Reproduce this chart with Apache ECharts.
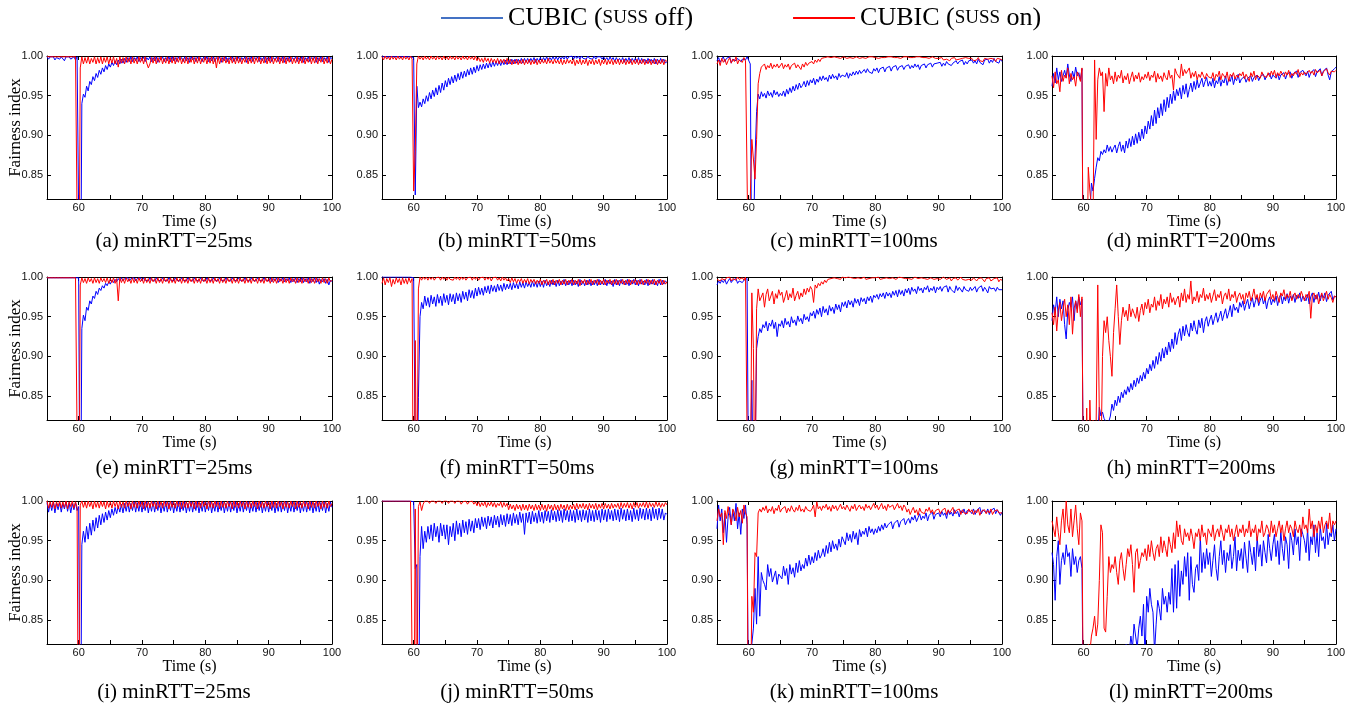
<!DOCTYPE html>
<html><head><meta charset="utf-8">
<script src="https://cdn.jsdelivr.net/npm/echarts@6/dist/echarts.min.js"></script>
<style>html,body{margin:0;padding:0;background:#fff}#c{width:1354px;height:707px}</style>
</head><body><div id="c"></div>
<script>
// Fairness index values in thousandths, sampled every 0.25 s from 55 s to 100 s (181 samples)
const a_off=[999,996,999,997,999,995,998,999,996,999,998,994,999,997,999,996,998,999,995,999,
998,600,940,952,948,962,956,968,964,974,969,978,973,982,977,985,980,988,983,990,
986,992,988,994,989,995,990,996,991,997,992,998,993,999,993,998,994,999,993,998,
994,999,993,998,995,999,993,998,994,999,992,998,995,999,993,998,994,999,993,999,
994,998,993,999,995,998,993,999,994,998,992,999,995,998,993,999,994,998,993,999,
995,999,993,998,994,999,993,998,995,999,992,998,994,999,993,998,995,999,993,998,
994,999,993,998,995,999,992,998,994,999,993,998,995,999,993,998,994,999,992,998,
994,999,993,998,995,999,993,998,994,999,992,998,994,999,993,998,995,999,993,998,
994,999,992,998,994,999,993,998,995,999,992,998,994,999,993,998,994,999,992,998,
997];
const a_on=[999,997,999,998,999,997,999,998,999,997,999,998,999,997,999,998,999,997,999,998,
600,985,999,990,998,991,999,990,997,992,999,990,998,991,999,990,998,992,999,990,
998,991,999,990,997,986,999,991,998,990,999,992,998,990,999,991,997,990,999,992,
998,990,999,991,985,990,998,991,999,990,998,992,999,990,997,991,999,990,998,991,
999,990,998,992,999,990,997,991,999,990,998,992,999,990,998,991,999,990,997,992,
999,990,998,991,999,990,998,985,999,990,998,992,999,991,997,990,999,991,998,990,
999,991,998,990,997,992,999,990,998,991,999,990,998,992,999,990,997,991,999,990,
998,991,999,990,997,992,999,990,998,991,999,990,998,992,999,990,997,991,999,990,
998,991,999,990,997,992,999,990,998,991,999,990,998,992,999,990,997,991,999,990,
996];
const b_off=[999,998,999,997,999,998,999,997,999,998,999,997,999,998,999,997,999,998,999,997,
998,825,962,935,942,936,946,940,950,943,954,946,957,949,960,951,963,954,966,957,
969,961,972,964,974,966,976,968,978,970,980,972,981,974,983,976,985,977,986,979,
988,981,989,983,990,984,991,985,992,986,993,987,993,988,994,988,994,989,995,989,
995,990,996,990,996,991,996,991,997,991,997,992,997,992,997,993,998,992,997,993,
998,993,998,994,999,994,998,995,999,995,999,995,999,996,999,996,1000,996,999,997,
1000,996,1000,997,1000,996,1000,997,999,996,1000,997,999,996,1000,996,999,997,999,996,
999,995,998,994,999,995,998,993,998,994,997,993,998,992,997,993,998,992,997,993,
997,992,998,991,997,992,996,991,997,992,996,991,997,990,996,991,997,992,996,991,
993];
const b_on=[999,995,1000,996,999,995,1000,996,999,995,1000,996,999,995,1000,996,999,995,1000,996,
830,880,990,1000,996,999,995,1000,996,999,995,1000,996,999,995,1000,996,999,995,1000,
996,999,995,1000,996,999,995,1000,996,999,995,1000,996,999,995,1000,996,999,995,1000,
994,998,993,997,992,998,993,997,991,997,992,996,991,997,990,996,991,996,990,997,
990,996,989,995,990,996,989,995,990,996,989,995,990,996,989,995,990,996,989,995,
990,996,991,995,990,997,991,995,990,996,991,995,990,996,989,995,990,996,991,995,
990,996,988,995,990,996,989,995,990,996,988,995,990,996,989,995,990,996,988,995,
990,996,989,995,990,996,989,995,990,996,989,995,990,996,989,995,990,996,989,995,
990,996,989,995,990,996,989,995,990,996,989,995,990,996,989,995,990,996,989,995,
993];
const c_off=[994,998,992,996,999,993,997,995,999,991,996,998,994,997,999,993,996,998,995,999,
997,990,700,760,870,930,952,946,955,949,953,947,956,950,954,948,957,951,955,949,
953,950,956,949,958,952,960,954,962,956,964,958,966,960,963,968,961,969,963,970,
966,972,964,971,967,974,969,975,970,973,968,976,971,977,972,975,970,978,973,976,
977,974,979,972,978,975,980,976,981,977,982,978,980,983,979,984,980,982,978,984,
981,985,979,984,982,986,980,985,983,987,981,986,984,988,982,986,985,988,983,987,
986,989,984,988,985,990,986,989,983,988,987,990,985,989,987,991,986,990,988,991,
989,992,987,991,988,993,990,992,988,991,989,994,990,993,991,995,989,993,990,994,
992,995,991,994,990,996,992,994,989,995,993,996,991,995,992,997,993,995,991,996,
993];
const c_on=[990,995,988,997,992,996,989,994,998,991,996,993,999,990,995,997,992,998,994,996,
700,820,895,896,845,895,965,978,986,984,990,983,988,985,991,984,989,986,990,985,
987,991,984,989,986,990,983,988,986,991,985,989,987,983,990,986,992,988,991,989,
993,990,995,992,996,993,997,995,998,996,999,997,998,996,999,997,998,999,997,998,
999,998,997,999,998,999,997,998,999,998,997,999,998,999,997,998,999,998,999,997,
998,999,997,999,998,999,998,997,999,998,999,997,998,999,998,999,997,998,999,998,
999,997,998,999,998,997,999,998,999,997,998,999,998,999,997,998,999,998,997,999,
997,996,998,995,997,996,998,994,997,996,998,995,997,996,994,997,995,998,996,997,
995,997,994,996,995,998,994,996,993,997,995,996,994,997,995,996,993,997,995,996,
995];
const d_off=[962,978,966,985,970,980,968,975,982,973,990,976,968,981,972,986,975,979,970,984,
600,560,640,780,800,840,830,846,860,872,868,880,876,882,878,888,880,886,879,884,
888,878,886,892,880,888,878,893,884,896,886,899,888,902,890,904,893,908,896,912,
902,918,908,925,912,932,915,935,922,940,925,945,930,948,935,952,940,956,944,958,
950,960,946,963,952,965,948,958,966,955,968,958,970,960,966,972,961,968,973,962,
968,962,972,960,969,965,974,962,970,966,975,963,971,968,976,964,972,969,977,966,
971,969,974,967,972,970,975,968,973,971,976,969,974,972,977,970,975,973,978,971,
976,974,972,978,970,976,974,979,971,977,975,980,972,978,976,981,973,979,977,982,
978,975,981,973,979,977,983,974,980,978,984,975,981,979,985,976,970,980,978,984,
986];
const d_on=[975,960,980,965,970,955,982,968,976,972,985,965,978,970,974,962,980,975,968,985,
600,650,700,860,830,810,790,995,895,970,985,975,980,930,978,962,985,970,975,965,
980,968,976,972,982,966,975,970,978,965,973,980,968,976,971,979,967,974,970,977,
972,980,969,976,973,981,967,978,971,975,968,979,973,970,982,972,976,957,984,978,
980,972,990,975,983,978,976,985,972,979,974,981,970,977,973,980,975,971,978,974,
976,972,979,969,977,974,981,970,978,975,972,980,968,977,974,979,971,976,973,978,
975,980,971,977,973,968,979,974,981,970,976,978,972,980,975,977,973,979,974,981,
976,982,973,979,975,981,977,974,980,976,982,973,978,975,980,977,983,974,979,976,
980,977,975,982,978,981,976,983,979,977,982,975,980,978,984,979,976,981,983,980,
982];
const e_off=[999,997,999,998,999,997,999,998,999,997,999,998,999,997,999,998,999,997,999,998,
999,600,935,952,945,962,958,970,966,976,973,982,978,986,983,989,986,992,989,994,
991,996,993,997,994,998,995,999,995,998,996,999,995,998,996,999,995,998,996,999,
995,999,996,998,995,999,996,998,995,999,996,998,995,999,996,998,995,999,996,998,
995,999,996,998,995,999,996,998,995,999,996,998,995,999,996,998,995,999,996,998,
995,999,996,998,995,999,996,998,995,999,996,998,995,999,996,998,995,999,996,998,
995,999,996,998,995,999,996,998,995,999,996,998,995,999,996,998,995,999,996,998,
995,999,994,998,995,999,993,998,995,999,994,998,995,999,993,998,994,999,993,998,
994,999,993,998,994,999,992,998,994,999,993,998,991,997,994,998,992,997,990,996,
994];
const e_on=[999,997,999,998,999,997,999,998,999,997,999,998,999,997,999,998,999,997,999,998,
600,990,999,993,998,992,999,994,998,992,999,993,998,992,999,994,998,993,999,992,
998,993,999,992,998,970,999,993,998,992,999,994,998,992,999,993,998,992,999,994,
998,992,999,993,998,992,999,994,998,992,999,993,998,992,999,994,998,992,999,993,
998,992,999,994,998,992,999,993,998,992,999,994,998,992,999,993,998,992,999,994,
998,992,999,993,998,992,999,994,998,992,999,993,998,992,999,994,998,992,999,993,
998,992,999,994,998,992,999,993,998,992,999,994,998,992,999,993,998,992,999,994,
998,992,999,993,998,992,999,994,998,992,999,993,998,992,999,994,998,992,999,993,
998,992,999,994,998,992,999,993,998,992,999,994,998,992,999,993,998,992,999,994,
996];
const f_off=[1000,998,1000,999,1000,998,1000,999,1000,998,1000,999,1000,998,1000,999,1000,998,1000,999,
999,780,700,848,950,968,960,976,964,974,962,977,966,975,963,978,967,976,964,979,
968,977,965,979,969,978,966,980,970,979,968,982,972,981,970,984,974,983,973,986,
976,987,978,986,977,988,980,989,979,990,982,989,981,991,983,990,982,992,984,991,
985,992,984,993,986,992,985,994,987,993,986,994,988,993,987,995,988,994,987,995,
988,995,987,996,989,994,988,996,990,995,988,996,989,995,990,997,989,995,990,996,
989,996,990,995,988,997,990,995,989,996,990,997,989,995,990,996,989,997,990,995,
990,997,989,996,991,995,988,997,990,996,989,997,991,995,990,997,989,996,991,997,
990,996,989,997,991,995,990,997,989,996,991,997,990,995,989,997,990,996,991,995,
993];
const f_on=[992,999,990,998,993,999,988,997,991,999,993,998,990,999,992,998,991,999,993,998,
600,920,700,985,1000,996,1000,997,1000,996,1000,997,1000,996,999,997,1000,996,1000,997,
1000,996,1000,997,999,996,1000,997,1000,996,1000,997,1000,996,999,997,1000,996,1000,997,
1000,996,999,997,1000,996,1000,997,1000,995,999,997,1000,996,999,995,1000,996,999,995,
998,993,999,994,998,992,997,994,998,992,997,993,998,991,997,993,997,991,996,992,
997,990,996,992,997,990,996,991,997,990,996,992,997,990,996,991,997,990,996,992,
997,990,996,991,997,989,996,992,997,990,996,991,997,990,996,992,997,990,996,991,
997,990,996,992,997,990,996,991,997,990,996,992,997,990,996,991,997,990,996,992,
997,990,996,991,997,990,996,992,997,990,996,991,997,990,996,992,997,990,996,991,
994];
const g_off=[990,995,992,996,993,997,991,995,998,993,996,994,998,992,995,997,993,996,994,998,
700,760,870,720,760,910,925,935,930,940,936,944,932,942,938,946,935,943,925,941,
938,945,936,948,940,944,937,950,942,946,939,951,944,948,941,953,946,950,944,955,
951,957,948,959,953,961,950,963,955,960,952,964,957,962,954,966,959,965,956,968,
963,969,961,971,965,970,962,973,967,972,964,974,969,973,966,975,970,976,968,977,
974,978,972,979,975,980,973,981,976,980,974,982,977,983,975,984,978,983,976,985,
980,986,978,987,982,985,979,988,983,986,980,987,984,989,981,986,983,988,980,987,
984,988,982,987,985,989,981,988,984,986,980,989,983,987,985,981,988,984,986,982,
987,983,985,988,981,986,984,989,982,987,984,980,988,985,983,986,982,987,984,985,
984];
const g_on=[997,999,995,998,1000,996,999,997,1000,995,998,999,996,1000,997,998,999,996,1000,998,
600,700,980,910,700,960,985,970,968,980,962,978,985,970,976,982,966,979,973,984,
977,981,968,975,983,971,979,974,986,970,977,982,972,980,975,985,978,986,981,988,
984,968,990,986,992,989,994,991,996,993,997,995,998,996,999,997,998,999,997,1000,
998,999,997,1000,998,999,997,998,1000,999,997,998,999,1000,997,999,998,1000,999,997,
999,998,1000,997,999,998,1000,999,997,998,1000,999,998,997,999,1000,998,999,997,998,
1000,998,999,997,998,1000,999,998,997,999,1000,998,999,997,998,999,1000,997,999,998,
999,997,998,1000,999,997,998,999,995,998,997,999,996,998,1000,997,999,996,998,997,
998,996,999,997,995,998,996,999,997,994,998,996,999,995,997,998,996,999,994,997,
996];
const h_off=[945,965,955,975,950,972,960,970,940,922,958,968,962,975,945,970,960,975,965,972,
700,650,600,700,750,780,800,790,810,800,836,825,830,822,820,815,818,825,840,832,
845,838,850,842,855,848,858,852,862,855,866,858,870,862,873,866,876,869,880,872,
885,878,890,882,895,885,900,890,905,894,910,898,912,902,918,906,922,910,930,915,
928,935,920,938,926,940,930,925,942,932,945,934,928,946,936,948,930,944,950,938,
946,952,940,948,955,943,950,957,945,953,960,948,955,964,950,966,958,962,955,968,
962,970,958,966,972,960,968,974,962,970,975,964,971,976,966,973,960,970,975,965,
972,968,976,964,974,978,966,975,970,979,967,976,972,978,968,977,973,980,969,976,
974,970,978,966,975,980,968,977,972,981,970,978,974,980,969,977,975,982,971,976,
975];
const h_on=[955,940,962,932,958,968,945,960,972,950,965,940,975,928,960,970,955,978,950,975,
700,650,835,700,845,780,820,700,820,990,825,760,900,945,930,950,920,900,875,930,
960,990,950,915,945,962,950,958,945,966,950,960,954,948,962,944,958,966,952,968,
960,972,955,966,962,975,958,970,964,978,960,972,966,975,962,980,968,974,965,972,
976,962,980,970,985,968,978,972,995,966,975,970,982,968,978,974,986,970,978,972,
980,968,976,984,970,978,974,982,966,976,980,972,985,970,978,974,982,968,976,980,
972,978,966,980,974,982,970,976,985,972,978,968,980,974,982,970,978,976,984,972,
978,970,982,975,968,980,976,984,972,978,974,982,970,976,980,972,978,974,982,976,
970,978,974,982,948,976,980,972,978,966,974,980,970,976,982,972,978,974,968,976,
975];
const i_off=[998,986,997,988,999,985,997,989,998,986,997,990,999,987,998,985,997,989,998,988,
993,600,945,962,948,968,952,972,957,976,962,979,966,982,970,984,973,986,976,988,
979,990,982,992,984,994,986,996,985,997,987,998,986,997,988,999,986,998,987,999,
986,998,988,999,985,997,987,999,986,998,988,999,985,997,987,999,986,998,988,999,
985,997,987,999,986,998,988,999,985,997,987,999,986,998,988,999,985,997,987,999,
986,998,988,999,985,997,987,999,986,998,988,999,985,997,987,999,986,998,988,999,
985,997,987,999,986,998,988,999,985,997,987,999,986,998,988,999,985,997,987,999,
986,998,988,999,985,997,987,999,986,998,988,999,985,997,987,999,986,998,988,999,
985,997,987,999,986,998,988,999,985,997,987,999,986,998,988,999,985,997,987,999,
992];
const i_on=[1000,991,999,992,1000,990,999,993,1000,991,999,992,1000,990,999,993,1000,991,999,992,
600,995,1000,992,999,991,1000,993,999,990,1000,992,999,991,1000,993,999,990,1000,992,
999,991,1000,993,999,990,1000,992,999,991,1000,993,999,990,1000,992,999,991,1000,993,
999,990,1000,992,999,991,1000,993,999,990,1000,992,999,991,1000,993,999,990,1000,992,
999,991,1000,993,999,990,1000,992,999,991,1000,993,999,990,1000,992,999,991,1000,993,
999,990,1000,992,999,991,1000,993,999,990,1000,992,999,991,1000,993,999,990,1000,992,
999,991,1000,993,999,990,1000,992,999,991,1000,993,999,990,1000,992,999,991,1000,993,
999,990,1000,992,999,991,1000,993,999,990,1000,992,999,991,1000,993,999,990,1000,992,
999,991,1000,993,999,990,1000,992,999,991,1000,993,999,990,1000,992,999,991,1000,993,
997];
const j_off=[1000,998,1000,999,1000,998,1000,999,1000,998,1000,999,1000,998,1000,999,1000,998,1000,999,
999,915,920,700,930,968,940,962,948,968,952,970,950,972,955,968,948,972,956,970,
952,970,945,968,955,972,950,975,958,972,955,976,960,974,958,977,962,975,960,978,
966,978,964,980,968,979,965,981,969,980,966,982,970,981,967,983,970,982,968,984,
971,983,969,985,972,983,970,986,973,984,958,985,973,986,971,987,974,985,972,988,
974,986,972,988,975,987,973,989,976,987,974,989,975,988,973,990,976,988,974,989,
975,988,973,990,976,988,974,989,976,988,973,990,975,988,974,989,976,988,973,990,
976,989,974,990,977,988,975,990,976,989,974,991,977,989,975,990,976,988,974,991,
977,989,975,991,978,990,976,991,977,990,975,992,978,990,976,991,978,990,976,985,
983];
const j_on=[1000,999,1000,999,1000,999,1000,999,1000,999,1000,999,1000,999,1000,999,1000,999,1000,999,
600,990,700,993,999,988,996,1000,998,1000,997,1000,998,1000,997,1000,998,1000,997,1000,
998,1000,997,1000,998,1000,997,1000,998,1000,996,999,997,1000,996,999,997,1000,996,999,
994,999,993,998,994,999,992,998,994,999,993,998,992,997,994,999,992,998,993,997,
989,996,990,995,988,996,990,995,988,996,989,995,988,996,990,995,988,996,989,995,
988,996,989,995,987,996,990,995,988,996,989,995,988,996,990,995,988,996,989,995,
990,996,989,997,990,996,991,997,990,996,989,997,991,996,990,997,989,996,991,997,
990,997,991,996,990,997,991,996,992,997,990,998,991,997,992,998,991,997,990,998,
992,998,991,997,993,998,992,999,991,998,993,997,992,999,993,998,992,997,993,998,
995];
const k_off=[965,995,975,990,960,985,948,980,992,970,988,975,997,965,985,958,990,978,995,970,
700,650,820,840,890,845,930,855,910,900,895,888,920,905,915,898,900,912,895,908,
910,902,918,906,915,895,920,908,916,904,922,910,925,912,920,915,928,918,932,920,
930,922,935,925,938,928,932,940,930,944,934,948,936,950,940,946,938,952,942,955,
955,945,960,950,958,948,962,952,960,945,964,955,962,958,966,955,968,960,965,958,
965,960,968,962,970,964,972,966,970,968,974,965,972,970,976,967,974,972,978,970,
975,978,972,980,976,982,974,979,984,976,981,978,985,975,982,980,986,977,983,981,
985,980,987,982,985,978,988,983,986,981,989,984,987,980,988,985,990,983,988,986,
987,984,990,983,988,986,992,984,989,987,985,990,983,988,986,991,984,989,987,982,
986];
const k_on=[975,990,980,985,945,988,978,993,982,970,990,985,975,992,980,988,972,995,985,980,
600,700,880,860,935,930,985,990,986,992,988,994,985,990,987,993,984,991,988,995,
986,990,988,993,985,991,987,994,989,986,992,988,995,987,990,986,993,989,991,987,
990,995,980,999,990,993,988,994,991,996,989,993,987,995,990,994,988,992,996,990,
993,989,995,991,987,994,990,996,988,992,995,990,993,988,996,991,994,989,993,997,
991,995,989,993,997,990,994,988,996,992,990,995,989,993,997,991,994,988,995,992,
986,990,983,988,992,985,989,982,991,986,988,984,990,987,992,985,989,983,988,986,
990,984,988,986,991,983,989,985,987,992,984,988,986,990,983,989,985,987,984,990,
986,989,983,988,985,990,982,987,986,989,984,988,985,990,983,987,986,989,985,984,
985];
const l_off=[935,920,875,930,950,895,925,935,920,945,930,935,905,940,920,930,910,925,930,915,
700,650,600,620,600,650,700,680,640,700,660,720,690,740,700,760,720,780,740,790,
760,800,780,790,770,810,800,820,790,810,830,815,845,830,815,840,855,830,870,800,
880,860,890,870,860,810,845,875,865,850,890,870,880,860,885,870,915,860,920,865,
925,880,912,895,930,905,935,875,930,895,885,915,920,900,955,910,935,915,940,920,
935,905,925,945,915,900,930,950,920,938,910,935,925,945,915,930,955,912,938,925,
940,915,948,928,910,950,935,920,942,912,955,930,945,918,950,935,922,958,940,925,
945,958,930,950,920,962,940,925,955,945,915,960,950,932,965,945,955,925,965,958,
950,935,965,925,955,945,970,935,960,930,968,950,955,940,972,945,960,955,970,950,
965];
const l_on=[975,965,955,980,960,945,975,990,960,1000,970,960,990,955,975,995,965,945,985,975,
700,650,720,820,810,830,840,855,830,845,900,970,960,840,835,880,930,910,920,915,
930,910,895,925,935,915,900,920,940,930,945,920,885,935,940,915,925,935,930,940,
925,945,930,950,935,925,940,945,930,955,935,950,940,930,955,945,935,960,940,975,
955,970,950,945,965,955,960,950,965,955,940,960,955,965,950,970,955,960,945,965,
965,955,970,950,960,965,955,970,960,950,965,960,970,955,965,950,960,970,955,965,
960,970,955,965,960,975,955,965,960,970,950,965,960,975,955,960,970,965,955,975,
960,970,955,965,975,960,970,950,965,975,960,970,965,955,975,965,960,970,955,980,
965,970,960,990,965,975,955,970,960,975,965,980,960,970,975,965,985,960,975,970,
975];

const letters=['a','b','c','d','e','f','g','h','i','j','k','l'];
const rttLabels=['25ms','50ms','100ms','200ms'];
const offSeries=[a_off,b_off,c_off,d_off,e_off,f_off,g_off,h_off,i_off,j_off,k_off,l_off];
const onSeries=[a_on,b_on,c_on,d_on,e_on,f_on,g_on,h_on,i_on,j_on,k_on,l_on];
const xTicks=[60,65,70,75,80,85,90,95,100];
const xLabels=[60,70,80,90,100];
const yTicks=[0.85,0.90,0.95,1.00];
const T=[]; for(let i=0;i<181;i++) T.push(55+i*0.25);

const NAME_OFF='CUBIC (SUSS off)', NAME_ON='CUBIC (SUSS on)';
const gridLeft=[47,382,717,1052], gridW=[285,285,285,284];
const gridTop=[56,277,501], gridH=143;
const capX=[174,517,854,1191], capY=[241,468,692];

const grids=[],xAxes=[],yAxes=[],series=[],graphics=[];
const tickStyle={inside:true,length:4,lineStyle:{color:'#000',width:1}};
const lineAx={show:true,onZero:false,lineStyle:{color:'#000',width:1}};
let bad=[];
for(let k=0;k<12;k++){
  const r=Math.floor(k/4), c=k%4;
  grids.push({left:gridLeft[c],top:gridTop[r],width:gridW[c],height:gridH,containLabel:false});
  xAxes.push({gridIndex:k,type:'value',min:55,max:100,position:'bottom',
    axisLine:lineAx,axisTick:Object.assign({customValues:xTicks},tickStyle),
    axisLabel:{customValues:xLabels,margin:3,fontFamily:'Liberation Sans',fontSize:11,color:'#111'},
    splitLine:{show:false},name:'Time (s)',nameLocation:'middle',nameGap:13,
    nameTextStyle:{fontFamily:'Liberation Serif',fontSize:16,color:'#000'}});
  xAxes.push({gridIndex:k,type:'value',min:55,max:100,position:'top',
    axisLine:lineAx,axisTick:Object.assign({customValues:xTicks},tickStyle),
    axisLabel:{show:false},splitLine:{show:false}});
  const yl={gridIndex:k,type:'value',min:0.82,max:1.0,position:'left',
    axisLine:lineAx,axisTick:Object.assign({customValues:yTicks},tickStyle),
    axisLabel:{customValues:yTicks,margin:4,fontFamily:'Liberation Sans',fontSize:11,color:'#111',
      formatter:v=>v.toFixed(2)},
    splitLine:{show:false}};
  if(c===0){Object.assign(yl,{name:'Fairness index',nameLocation:'middle',nameGap:23,nameMoveOverlap:false,
    nameTextStyle:{fontFamily:'Liberation Serif',fontSize:17,color:'#000'}});}
  yAxes.push(yl);
  yAxes.push({gridIndex:k,type:'value',min:0.82,max:1.0,position:'right',
    axisLine:lineAx,axisTick:Object.assign({customValues:yTicks},tickStyle),
    axisLabel:{show:false},splitLine:{show:false}});
  const off=offSeries[k], on=onSeries[k];
  if(off.length!==181||on.length!==181) bad.push(letters[k]+':'+off.length+'/'+on.length);
  series.push({type:'line',name:NAME_OFF,xAxisIndex:2*k,yAxisIndex:2*k,
    data:T.map((t,i)=>[t,off[i]/1000]),symbol:'none',clip:true,
    lineStyle:{color:'#0000ff',width:1},itemStyle:{color:'#0000ff'}});
  series.push({type:'line',name:NAME_ON,xAxisIndex:2*k,yAxisIndex:2*k,
    data:T.map((t,i)=>[t,on[i]/1000]),symbol:'none',clip:true,
    lineStyle:{color:'#ff0000',width:1},itemStyle:{color:'#ff0000'}});
  graphics.push({type:'text',x:capX[c],y:capY[r],style:{text:'('+letters[k]+') minRTT='+rttLabels[c],
    font:'21px "Liberation Serif"',fill:'#000',align:'center',verticalAlign:'middle'}});
}
if(bad.length) graphics.push({type:'text',x:10,y:690,style:{text:'LEN '+bad.join(' '),fill:'#f0f',font:'12px sans-serif'}});

const chart=echarts.init(document.getElementById('c'),null,{renderer:'canvas'});
chart.setOption({
  animation:false,
  backgroundColor:'#fff',
  legend:{top:5,left:441,padding:0,icon:'rect',itemWidth:62,itemHeight:2,itemGap:100,selectedMode:false,
    data:[{name:NAME_OFF,itemStyle:{color:'#4472C4'}},{name:NAME_ON,itemStyle:{color:'#ff0000'}}],
    formatter:n=>n===NAME_OFF?'{a|CUBIC (}{b|SUSS}{a| off)}':'{a|CUBIC (}{b|SUSS}{a| on)}',
    textStyle:{rich:{a:{fontFamily:'Liberation Serif',fontSize:26,color:'#000'},
      b:{fontFamily:'Liberation Serif',fontSize:19,color:'#000'}}}},
  grid:grids,xAxis:xAxes,yAxis:yAxes,series:series,graphic:graphics
});
</script></body></html>
